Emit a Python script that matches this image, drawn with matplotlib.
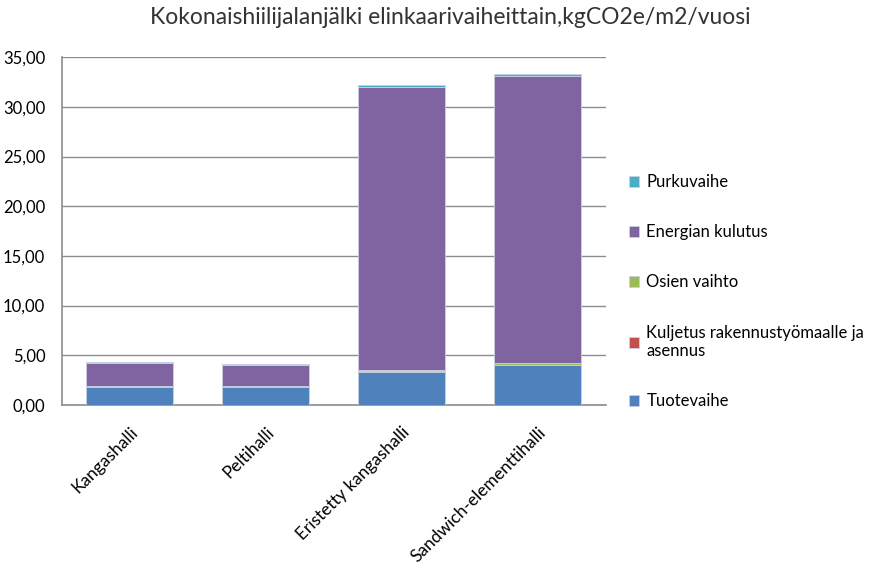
import numpy as np
import matplotlib.pyplot as plt
from matplotlib.ticker import FuncFormatter

plt.rcParams['font.family'] = ['Lato', 'DejaVu Sans']

# Tiedot kuvasta luettuna
hallit = ['Kangashalli', 'Peltihalli', 'Eristetty kangashalli', 'Sandwich-elementtihalli']
tuotevaihe = [1.80, 1.85, 3.35, 4.00]
kuljetus = [0.02, 0.02, 0.03, 0.03]
osien_vaihto = [0.05, 0.05, 0.10, 0.15]
energia = [2.35, 2.15, 28.50, 28.90]
purku = [0.08, 0.03, 0.20, 0.25]

sarjat = [tuotevaihe, kuljetus, osien_vaihto, energia, purku]
nimet = ['Tuotevaihe', 'Kuljetus rakennustyömaalle ja\nasennus', 'Osien vaihto',
         'Energian kulutus', 'Purkuvaihe']
varit = ['#4F81BD', '#C0504D', '#9BBB59', '#8064A2', '#4BACC6']

fig = plt.figure(figsize=(8.77, 5.72), dpi=100)
ax = fig.add_axes([0.0707, 0.292, 0.62, 0.608])

x = np.arange(len(hallit))
pohja = np.zeros(len(hallit))
for arvot, nimi, vari in zip(sarjat, nimet, varit):
    ax.bar(x, arvot, 0.64, bottom=pohja, color=vari, label=nimi,
           edgecolor='#C8D2E0', linewidth=0.6, zorder=3)
    pohja = pohja + np.array(arvot)

ax.set_xlim(-0.5, 3.5)
ax.set_ylim(0, 35)
ax.set_yticks(np.arange(0, 36, 5))
ax.yaxis.set_major_formatter(FuncFormatter(lambda v, p: ('%.2f' % v).replace('.', ',')))
ax.grid(axis='y', color='#8C8C8C', linewidth=1.0, zorder=0)
ax.tick_params(axis='x', length=0, labelsize=12.5, colors='black', pad=14)
ax.tick_params(axis='y', length=0, labelsize=12, colors='black', pad=12)
ax.set_xticks(x)
ax.set_xticklabels(hallit, rotation=45, ha='right', rotation_mode='anchor')
for s in ['top', 'right']:
    ax.spines[s].set_visible(False)
for s in ['left', 'bottom']:
    ax.spines[s].set_color('#8C8C8C')
    ax.spines[s].set_linewidth(1.2)

fig.suptitle('Kokonaishiilijalanjälki elinkaarivaiheittain,kgCO2e/m2/vuosi',
             fontsize=16.5, x=0.513, y=0.988, color='#333333')

h, l = ax.get_legend_handles_labels()
fig.legend(h[::-1], l[::-1], loc='center left', bbox_to_anchor=(0.7, 0.49),
           frameon=False, fontsize=12, handlelength=0.6, handleheight=0.6,
           handletextpad=0.45, labelspacing=2.05)

fig.savefig('out.png', dpi=100)
